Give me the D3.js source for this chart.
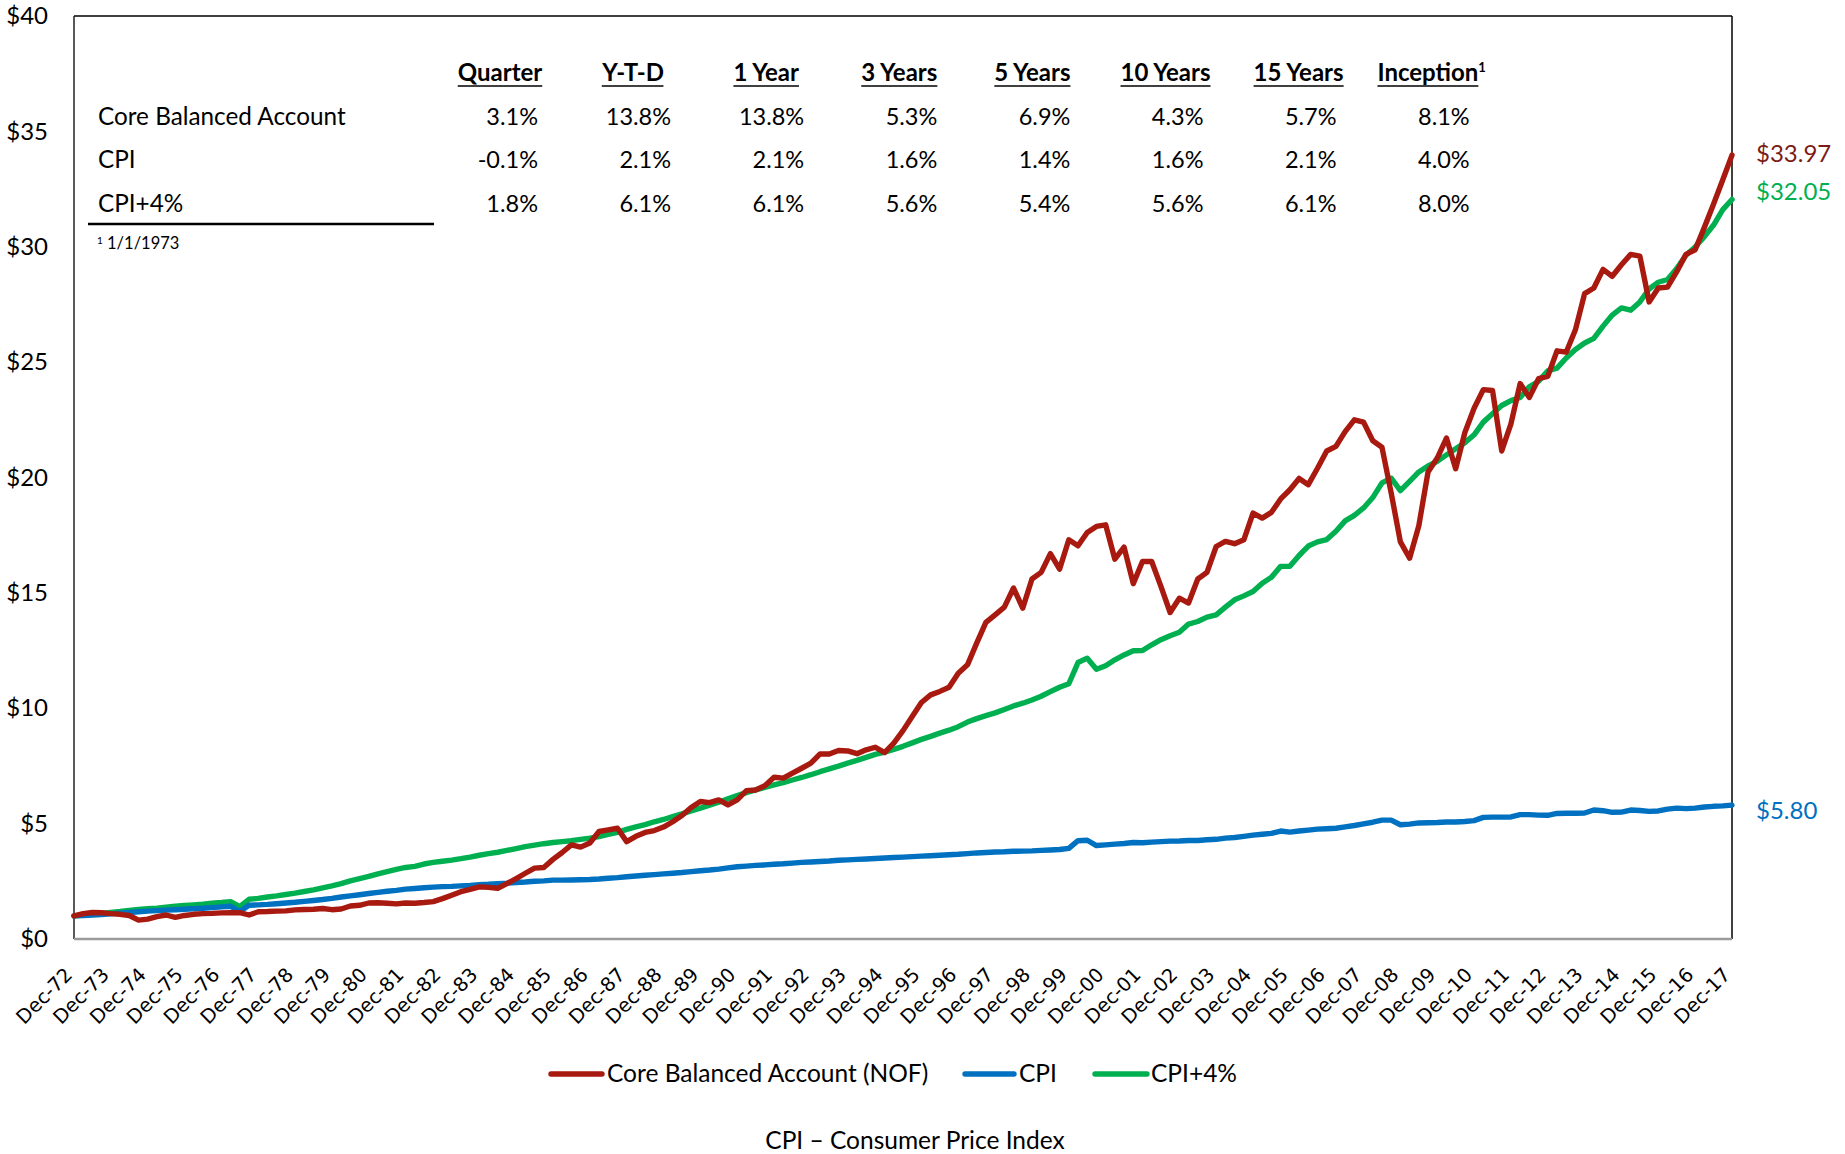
<!DOCTYPE html>
<html><head><meta charset="utf-8">
<script src="https://cdn.jsdelivr.net/npm/d3@7"></script>
<style>body{margin:0;background:#fff} svg{display:block}</style>
</head><body><svg id="chart" width="1845" height="1154"></svg>
<script>
// ---------- DATA ----------
const monthNames = ["Mar","Jun","Sep","Dec"];
const quarters = ["Dec-72"];
for (let y = 73; y <= 117; y++) for (const m of monthNames) quarters.push(m + "-" + String(y % 100).padStart(2, "0"));

const tickLabels = ["Dec-72","Dec-73","Dec-74","Dec-75","Dec-76","Dec-77","Dec-78","Dec-79","Dec-80","Dec-81",
  "Dec-82","Dec-83","Dec-84","Dec-85","Dec-86","Dec-87","Dec-88","Dec-89","Dec-90","Dec-91","Dec-92","Dec-93",
  "Dec-94","Dec-95","Dec-96","Dec-97","Dec-98","Dec-99","Dec-00","Dec-01","Dec-02","Dec-03","Dec-04","Dec-05",
  "Dec-06","Dec-07","Dec-08","Dec-09","Dec-10","Dec-11","Dec-12","Dec-13","Dec-14","Dec-15","Dec-16","Dec-17"];

const coreBalanced = [1.00,1.10,1.15,1.14,1.10,1.07,1.02,0.82,0.86,0.97,
1.04,0.94,1.02,1.07,1.10,1.11,1.13,1.14,1.14,1.04,
1.18,1.19,1.21,1.22,1.26,1.28,1.29,1.32,1.27,1.30,
1.43,1.46,1.56,1.57,1.55,1.52,1.56,1.55,1.58,1.62,
1.75,1.90,2.05,2.15,2.26,2.24,2.20,2.40,2.62,2.85,
3.07,3.10,3.45,3.75,4.08,3.98,4.16,4.66,4.73,4.80,
4.22,4.45,4.62,4.70,4.85,5.08,5.35,5.70,5.96,5.91,
6.03,5.81,6.03,6.43,6.46,6.64,7.01,6.97,7.19,7.40,
7.62,8.02,8.02,8.17,8.15,8.03,8.20,8.31,8.08,8.49,
9.03,9.64,10.25,10.58,10.73,10.91,11.52,11.88,12.82,13.72,
14.05,14.38,15.21,14.34,15.60,15.89,16.70,16.03,17.30,17.04,
17.62,17.88,17.95,16.46,16.98,15.40,16.36,16.36,15.28,14.15,
14.77,14.56,15.60,15.89,17.01,17.23,17.13,17.30,18.46,18.24,
18.49,19.07,19.47,19.96,19.69,20.40,21.15,21.35,21.99,22.50,
22.40,21.59,21.31,19.33,17.21,16.50,17.91,20.24,20.84,21.71,
20.38,21.95,23.00,23.81,23.77,21.15,22.32,24.07,23.47,24.28,
24.38,25.49,25.43,26.40,27.97,28.21,29.02,28.72,29.22,29.67,
29.59,27.61,28.21,28.25,28.92,29.67,29.87,30.84,31.85,32.90,
33.97];

const cpi = [1.00,1.02,1.04,1.06,1.09,1.12,1.15,1.18,1.21,1.23,
1.25,1.27,1.29,1.31,1.33,1.36,1.39,1.42,1.19,1.46,
1.48,1.50,1.53,1.56,1.59,1.63,1.67,1.71,1.76,1.82,
1.87,1.92,1.97,2.02,2.07,2.11,2.16,2.19,2.22,2.25,
2.27,2.28,2.30,2.32,2.35,2.37,2.40,2.42,2.45,2.47,
2.50,2.52,2.55,2.55,2.56,2.57,2.58,2.60,2.63,2.66,
2.70,2.73,2.76,2.79,2.82,2.85,2.88,2.92,2.96,2.99,
3.03,3.08,3.13,3.16,3.19,3.21,3.24,3.26,3.29,3.32,
3.34,3.36,3.38,3.41,3.43,3.45,3.47,3.49,3.51,3.53,
3.55,3.57,3.59,3.61,3.63,3.65,3.67,3.70,3.73,3.75,
3.77,3.78,3.80,3.81,3.82,3.84,3.86,3.88,3.93,4.26,
4.28,4.05,4.08,4.11,4.14,4.18,4.17,4.20,4.22,4.24,
4.25,4.27,4.27,4.30,4.32,4.37,4.40,4.45,4.50,4.54,
4.58,4.68,4.63,4.68,4.72,4.76,4.78,4.80,4.86,4.92,
4.99,5.06,5.15,5.15,4.95,4.98,5.03,5.04,5.05,5.07,
5.07,5.09,5.13,5.27,5.28,5.28,5.29,5.39,5.39,5.37,
5.36,5.44,5.45,5.45,5.46,5.59,5.56,5.49,5.50,5.59,
5.57,5.53,5.55,5.63,5.67,5.65,5.67,5.72,5.75,5.77,
5.80];

const cpiPlus4 = [1.00,1.04,1.08,1.11,1.15,1.19,1.24,1.28,1.31,1.34,
1.38,1.42,1.45,1.48,1.51,1.55,1.58,1.62,1.40,1.72,
1.76,1.82,1.87,1.93,1.99,2.06,2.13,2.22,2.30,2.40,
2.52,2.62,2.71,2.82,2.92,3.02,3.10,3.15,3.25,3.32,
3.37,3.42,3.48,3.55,3.63,3.70,3.76,3.84,3.92,4.00,
4.07,4.13,4.18,4.22,4.26,4.32,4.37,4.44,4.53,4.62,
4.75,4.86,4.96,5.08,5.18,5.30,5.42,5.55,5.67,5.80,
5.93,6.08,6.22,6.34,6.46,6.57,6.68,6.78,6.89,7.00,
7.12,7.25,7.37,7.49,7.62,7.74,7.87,8.00,8.10,8.22,
8.35,8.50,8.65,8.78,8.92,9.05,9.20,9.40,9.55,9.68,
9.80,9.95,10.10,10.22,10.36,10.52,10.72,10.91,11.06,11.98,
12.17,11.69,11.84,12.10,12.31,12.49,12.50,12.75,12.97,13.14,
13.29,13.65,13.76,13.95,14.05,14.38,14.70,14.87,15.06,15.42,
15.68,16.15,16.15,16.62,17.03,17.21,17.31,17.67,18.12,18.36,
18.68,19.13,19.77,19.97,19.43,19.83,20.24,20.50,20.70,20.98,
21.25,21.51,21.85,22.40,22.76,23.12,23.33,23.47,23.93,24.17,
24.62,24.74,25.18,25.55,25.83,26.03,26.56,27.04,27.35,27.25,
27.61,28.17,28.46,28.58,29.06,29.63,29.99,30.44,30.94,31.61,
32.05];

const yTicks = [0,5,10,15,20,25,30,35,40];
const seriesNames = ["Core Balanced Account (NOF)","CPI","CPI+4%"];

const tableColumns = ["Quarter","Y-T-D","1 Year","3 Years","5 Years","10 Years","15 Years","Inception"];
const tableRowNames = ["Core Balanced Account","CPI","CPI+4%"];
const tableCore = ["3.1%","13.8%","13.8%","5.3%","6.9%","4.3%","5.7%","8.1%"];
const tableCpi = ["-0.1%","2.1%","2.1%","1.6%","1.4%","1.6%","2.1%","4.0%"];
const tableCpiPlus4 = ["1.8%","6.1%","6.1%","5.6%","5.4%","5.6%","6.1%","8.0%"];
const footnote = "1/1/1973";
const footerText = "CPI \u2013 Consumer Price Index";

// ---------- CHART ----------
const svg = d3.select("#chart");
const FONT = "Lato, 'Open Sans', sans-serif";
const L = 74, R = 1732, T = 16, B = 939;
const colors = ["#A8190F", "#0070C0", "#00B050"];
const labelColors = ["#7B1C17", "#0070C0", "#00B050"];
const series = [coreBalanced, cpi, cpiPlus4];

const x = d3.scalePoint().domain(quarters).range([L, R]);
const y = d3.scaleLinear().domain([0, 40]).range([B, T]);

// y axis labels
const yAxis = d3.axisLeft(y).tickValues(yTicks).tickSize(0).tickPadding(26).tickFormat(d => "$" + d);
const gy = svg.append("g").attr("transform", `translate(${L},0)`).call(yAxis);
gy.select(".domain").remove();
gy.selectAll("text").attr("font-family", FONT).attr("font-size", 24).attr("fill", "#000");

// x axis labels
const xAxis = d3.axisBottom(x).tickValues(tickLabels).tickSize(0);
const gx = svg.append("g").attr("transform", `translate(0,${B})`).call(xAxis);
gx.select(".domain").remove();
gx.selectAll("text")
  .attr("font-family", "'DejaVu Sans', Verdana, sans-serif").attr("font-size", 19.5).attr("fill", "#000")
  .attr("text-anchor", "end").attr("x", 0).attr("y", 0).attr("dy", 0)
  .attr("transform", "translate(-1,37) rotate(-45)");

// plot frame
svg.append("line").attr("x1", L).attr("x2", R).attr("y1", T).attr("y2", T).attr("stroke", "#000").attr("stroke-width", 1.5);
svg.append("line").attr("x1", L).attr("x2", L).attr("y1", T).attr("y2", B).attr("stroke", "#222").attr("stroke-width", 1.5);
svg.append("line").attr("x1", R).attr("x2", R).attr("y1", T).attr("y2", B).attr("stroke", "#000").attr("stroke-width", 1.5);
svg.append("line").attr("x1", L).attr("x2", R).attr("y1", B).attr("y2", B).attr("stroke", "#9a9a9a").attr("stroke-width", 2.5);

// lines
const line = d3.line().x((d, i) => x(quarters[i])).y(d => y(d));
[2, 1, 0].forEach(k => {
  svg.append("path").datum(series[k]).attr("d", line)
    .attr("fill", "none").attr("stroke", colors[k]).attr("stroke-width", 5.4)
    .attr("stroke-linejoin", "round").attr("stroke-linecap", "round");
});

// end labels
const fmt = d3.format("$.2f");
const endOffset = [7, 14, 1];
series.forEach((s, k) => {
  svg.append("text").attr("x", 1756).attr("y", y(s[s.length - 1]) + endOffset[k])
    .attr("font-family", FONT).attr("font-size", 24).attr("fill", labelColors[k]).text(fmt(s[s.length - 1]));
});

// table
const colCenters = tableColumns.map((c, i) => 500 + 133.1 * i);
const headerY = 81;
tableColumns.forEach((c, i) => {
  const t = svg.append("text").attr("x", colCenters[i]).attr("y", headerY).attr("text-anchor", "middle")
    .attr("font-family", FONT).attr("font-size", 24).attr("font-weight", "bold").attr("fill", "#000");
  t.append("tspan").text(c);
  if (c === "Inception") t.append("tspan").attr("font-size", 13).attr("dy", -9).text("1");
  const bb = t.node().getBBox();
  const w = t.select("tspan").node().getComputedTextLength();
  const x0 = colCenters[i] - bb.width / 2;
  svg.append("line").attr("x1", x0).attr("x2", x0 + w).attr("y1", headerY + 5).attr("y2", headerY + 5)
    .attr("stroke", "#000").attr("stroke-width", 1.6);
});
const rowY = [125, 168, 212];
const rowVals = [tableCore, tableCpi, tableCpiPlus4];
tableRowNames.forEach((r, j) => {
  svg.append("text").attr("x", 98).attr("y", rowY[j]).attr("font-family", FONT).attr("font-size", 24.3).attr("fill", "#000").text(r);
  rowVals[j].forEach((v, i) => {
    svg.append("text").attr("x", colCenters[i] + 38).attr("y", rowY[j]).attr("text-anchor", "end")
      .attr("font-family", FONT).attr("font-size", 23.5).attr("fill", "#000").text(v);
  });
});
svg.append("line").attr("x1", 88).attr("x2", 434).attr("y1", 224).attr("y2", 224).attr("stroke", "#000").attr("stroke-width", 2.5);
const fn = svg.append("text").attr("x", 97).attr("y", 249).attr("font-family", FONT).attr("font-size", 16.5).attr("fill", "#000");
fn.append("tspan").attr("font-size", 10).attr("dy", -5).text("1");
fn.append("tspan").attr("dy", 5).text(" " + footnote);

// legend
const legendItems = [
  {x1: 551, x2: 602, tx: 607},
  {x1: 965, x2: 1014, tx: 1019},
  {x1: 1095, x2: 1147, tx: 1151}
];
legendItems.forEach((li, k) => {
  svg.append("line").attr("x1", li.x1).attr("x2", li.x2).attr("y1", 1074).attr("y2", 1074)
    .attr("stroke", colors[k]).attr("stroke-width", 5.4).attr("stroke-linecap", "round");
  svg.append("text").attr("x", li.tx).attr("y", 1082).attr("font-family", FONT).attr("font-size", 24.5)
    .attr("fill", "#000").text(seriesNames[k]);
});

// footer
svg.append("text").attr("x", 915).attr("y", 1149).attr("text-anchor", "middle").attr("font-family", FONT)
  .attr("font-size", 24.5).attr("fill", "#000").text(footerText);
</script></body></html>
